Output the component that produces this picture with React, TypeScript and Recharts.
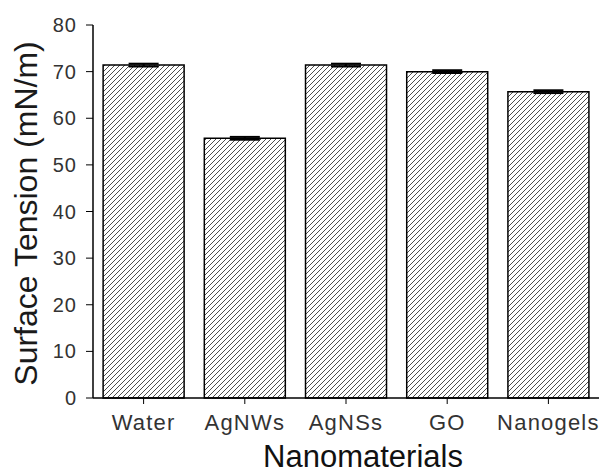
import React from 'react';
import {
  BarChart,
  Bar,
  XAxis,
  YAxis,
  ErrorBar,
  Label,
} from 'recharts';

const categories = ['Water', 'AgNWs', 'AgNSs', 'GO', 'Nanogels'];
const tensionValues = [71.4, 55.7, 71.4, 70.0, 65.7];
const tensionErrors = [0.3, 0.3, 0.3, 0.3, 0.3];
const yTicks = [0, 10, 20, 30, 40, 50, 60, 70, 80];

const data = categories.map((name, i) => ({
  name,
  value: tensionValues[i],
  err: tensionErrors[i],
}));

const FONT = '"Liberation Sans", Arial, sans-serif';

const renderYTitle = ({ viewBox }: { viewBox?: { x?: number; y?: number; height?: number } }) => {
  const x = 37;
  const y = (viewBox?.y ?? 0) + (viewBox?.height ?? 0) / 2 + 2;
  return (
    <text
      x={x}
      y={y}
      transform={`rotate(-90 ${x} ${y})`}
      textAnchor="middle"
      fontFamily={FONT}
      fontSize={32}
      fill="#1a1a1a"
    >
      Surface Tension (mN/m)
    </text>
  );
};

const renderXTitle = ({ viewBox }: { viewBox?: { x?: number; y?: number; width?: number } }) => {
  const x = (viewBox?.x ?? 0) + (viewBox?.width ?? 0) / 2 + 17;
  const y = (viewBox?.y ?? 0) + 69;
  return (
    <text x={x} y={y} textAnchor="middle" fontFamily={FONT} fontSize={31} fill="#111">
      Nanomaterials
    </text>
  );
};

export default function App() {
  return (
    <div style={{ position: 'fixed', left: 0, top: 0, background: '#fff' }}>
      <BarChart
        width={605}
        height={473}
        data={data}
        margin={{ top: 25, right: 6, bottom: 0, left: 0 }}
        barCategoryGap="10%"
      >
        <defs>
          <pattern id="hatch" patternUnits="userSpaceOnUse" width={5} height={5}>
            <path
              d="M0,5 L5,0 M-1,1 L1,-1 M4,6 L6,4"
              stroke="#3a3a3a"
              strokeWidth={0.9}
            />
          </pattern>
        </defs>
        <XAxis
          dataKey="name"
          height={75}
          axisLine={{ stroke: '#000', strokeWidth: 1.5 }}
          tickLine={{ stroke: '#000' }}
          tickSize={6}
          tickMargin={10}
          tick={{ fontFamily: FONT, fontSize: 22, fill: '#333', letterSpacing: 1.2 }}
        >
          <Label content={renderXTitle} />
        </XAxis>
        <XAxis
          xAxisId="top"
          dataKey="name"
          orientation="top"
          height={0}
          tick={false}
          tickLine={false}
          axisLine={{ stroke: '#000', strokeWidth: 1.5 }}
        />
        <YAxis
          width={93}
          domain={[0, 80]}
          ticks={yTicks}
          interval={0}
          axisLine={{ stroke: '#000', strokeWidth: 1.5 }}
          tickLine={{ stroke: '#000' }}
          tickSize={7}
          tickMargin={9}
          tick={{ fontFamily: FONT, fontSize: 20, fill: '#333', letterSpacing: 1 }}
        >
          <Label content={renderYTitle} />
        </YAxis>
        <YAxis
          yAxisId="right"
          orientation="right"
          width={0}
          domain={[0, 80]}
          tick={false}
          tickLine={false}
          axisLine={{ stroke: '#444', strokeWidth: 1 }}
        />
        <Bar
          dataKey="value"
          fill="url(#hatch)"
          stroke="#000"
          strokeWidth={1.5}
          isAnimationActive={false}
        >
          <ErrorBar dataKey="err" width={15} stroke="#000" strokeWidth={2} />
        </Bar>
      </BarChart>
    </div>
  );
}
